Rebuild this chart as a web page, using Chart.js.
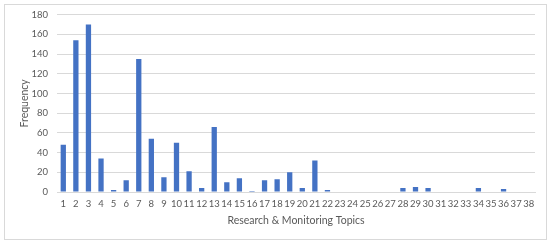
<!DOCTYPE html>
<html>
<head>
<meta charset="utf-8">
<script src="https://cdn.jsdelivr.net/npm/chart.js@4"></script>
<style>
  html, body { margin: 0; padding: 0; background: #fff; }
  #wrap { position: absolute; left: 4px; top: 4px; width: 543px; height: 236px; border: 1px solid #d9d9d9; box-sizing: border-box; }
  #box { position: absolute; left: 0; top: 0; width: 550px; height: 246px; }
</style>
</head>
<body>
<div id="wrap"></div>
<div id="box"><canvas id="c"></canvas></div>
<script>
var topics = [];
for (var i = 1; i <= 38; i++) topics.push(String(i));
var frequency = [48, 154, 170, 34, 2, 12, 135, 54, 15, 50,
                 21, 4, 66, 10, 14, 1, 12, 13, 20, 4,
                 32, 2, 0, 0, 0, 0, 0, 4, 5, 4,
                 0, 0, 0, 4, 0, 3, 0, 0];
var yTicks = [0, 20, 40, 60, 80, 100, 120, 140, 160, 180];

var ctx = document.getElementById("c").getContext("2d");
var myChart = new Chart(ctx, {
    type: 'bar',
    data: {
        labels: topics,
        datasets: [{
            label: 'Frequency',
            data: frequency,
            backgroundColor: '#4472c4',
            categoryPercentage: 1,
            barPercentage: 0.42
        }]
    },
    options: {
        responsive: true,
        maintainAspectRatio: false,
        animation: false,
        layout: { padding: { left: 14, right: 15, top: 10, bottom: 14 } },
        plugins: { legend: { display: false }, tooltip: { enabled: false } },
        scales: {
            x: {
                afterFit: function (axis) { axis.height = 40; },
                grid: { display: false, drawTicks: false },
                border: { display: true, color: '#d9d9d9' },
                ticks: { color: '#595959', font: { family: 'Lato', size: 9.5 }, maxRotation: 0, autoSkip: false, padding: 6 },
                title: { display: true, text: 'Research & Monitoring Topics', color: '#595959', font: { family: 'Lato', size: 10.5 }, padding: { top: 4, bottom: 5 } }
            },
            y: {
                min: 0,
                max: 180,
                afterBuildTicks: function (axis) {
                    axis.ticks = yTicks.map(function (v) { return { value: v }; });
                },
                afterFit: function (axis) { axis.width = 43; },
                grid: { color: '#d9d9d9', drawTicks: false },
                border: { display: false },
                ticks: { color: '#595959', font: { family: 'Lato', size: 9.5 }, padding: 9 },
                title: { display: true, text: 'Frequency', color: '#595959', font: { family: 'Lato', size: 10.5 }, padding: { top: 4, bottom: 4 } }
            }
        }
    }
});
</script>
</body>
</html>
